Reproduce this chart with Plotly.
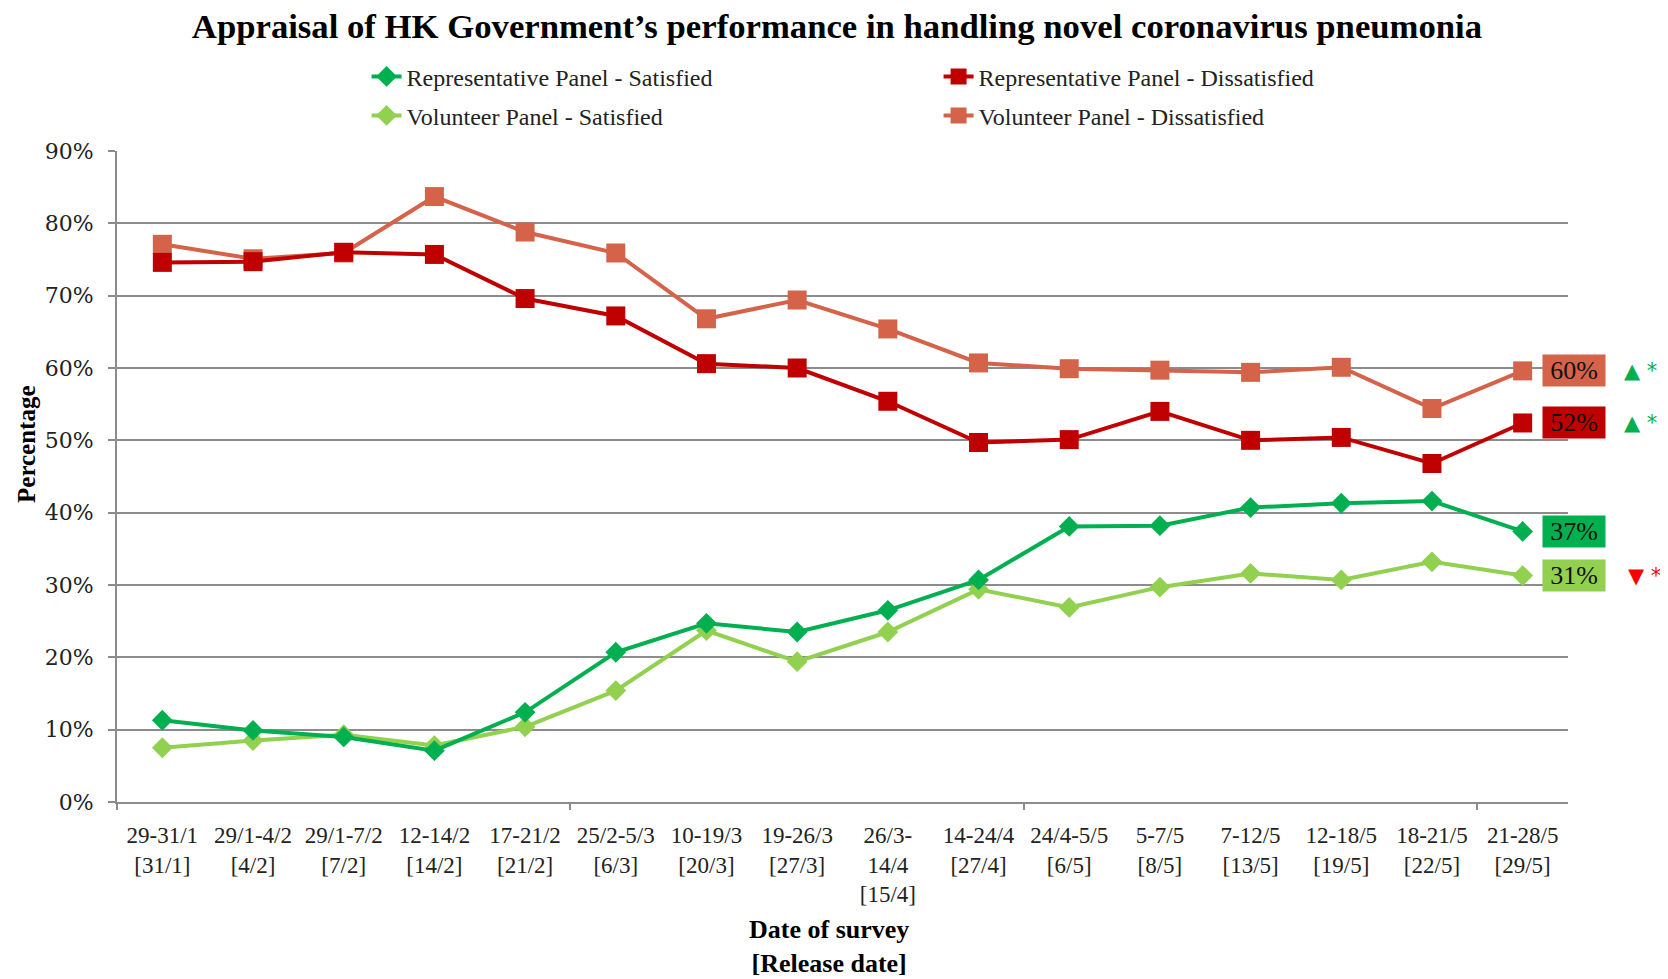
import plotly.graph_objects as go

categories = ["29-31/1<br>[31/1]", "29/1-4/2<br>[4/2]", "29/1-7/2<br>[7/2]", "12-14/2<br>[14/2]",
              "17-21/2<br>[21/2]", "25/2-5/3<br>[6/3]", "10-19/3<br>[20/3]", "19-26/3<br>[27/3]",
              "26/3-<br>14/4<br>[15/4]", "14-24/4<br>[27/4]", "24/4-5/5<br>[6/5]", "5-7/5<br>[8/5]",
              "7-12/5<br>[13/5]", "12-18/5<br>[19/5]", "18-21/5<br>[22/5]", "21-28/5<br>[29/5]"]

rep_sat = [11.3, 9.9, 9.0, 7.1, 12.4, 20.7, 24.7, 23.5, 26.5, 30.7, 38.1, 38.2, 40.7, 41.3, 41.6, 37.4]
vol_sat = [7.5, 8.5, 9.3, 7.8, 10.4, 15.4, 23.7, 19.4, 23.5, 29.4, 26.9, 29.7, 31.6, 30.7, 33.2, 31.3]
rep_dis = [74.6, 74.7, 76.0, 75.7, 69.6, 67.2, 60.6, 60.0, 55.4, 49.7, 50.1, 54.0, 50.0, 50.4, 46.8, 52.4]
vol_dis = [77.1, 75.1, 75.9, 83.7, 78.8, 75.9, 66.8, 69.4, 65.4, 60.7, 59.9, 59.7, 59.4, 60.1, 54.4, 59.6]

y_ticks = [0, 10, 20, 30, 40, 50, 60, 70, 80, 90]
y_ticklabels = ["0%", "10%", "20%", "30%", "40%", "50%", "60%", "70%", "80%", "90%"]

C_REP_SAT = "#00B050"
C_VOL_SAT = "#92D050"
C_REP_DIS = "#C00000"
C_VOL_DIS = "#D4634A"

xs = list(range(len(categories)))
fig = go.Figure()

series = [
    # name, values, color, symbol, size, legendrank, legend
    ("Volunteer Panel - Dissatisfied", vol_dis, C_VOL_DIS, "square", 19, 2, "legend2"),
    ("Volunteer Panel - Satisfied", vol_sat, C_VOL_SAT, "diamond", 16, 1, "legend2"),
    ("Representative Panel - Dissatisfied", rep_dis, C_REP_DIS, "square", 19, 2, "legend"),
    ("Representative Panel - Satisfied", rep_sat, C_REP_SAT, "diamond", 16, 1, "legend"),
]
for name, vals, color, sym, size, rank, leg in series:
    fig.add_trace(go.Scatter(
        x=xs, y=vals, name=name, mode="lines+markers",
        line=dict(color=color, width=4),
        marker=dict(symbol=sym, size=size, color=color),
        legendrank=rank, legend=leg,
    ))

# invisible trace hosting the boundary ticks on xaxis2
fig.add_trace(go.Scatter(x=[xs[0]], y=[None], xaxis="x2", showlegend=False, hoverinfo="skip"))

# right-side value labels and change markers
end_series = [
    (vol_dis, C_VOL_DIS, "▲ *", "#00B050", 118),
    (rep_dis, C_REP_DIS, "▲ *", "#00B050", 118),
    (rep_sat, C_REP_SAT, "", "#00B050", 118),
    (vol_sat, C_VOL_SAT, "▼ *", "#FF0000", 122),
]
for vals, bg, chg, chg_color, shift in end_series:
    fig.add_annotation(
        x=xs[-1], y=vals[-1], xref="x", yref="y",
        text=f"{round(vals[-1])}%", showarrow=False, xshift=51,
        bgcolor=bg, borderpad=2, width=58, height=27,
        font=dict(family="Liberation Serif", size=26, color="#111111"),
    )
    if chg:
        fig.add_annotation(
            x=xs[-1], y=vals[-1], xref="x", yref="y",
            text=chg, showarrow=False, xshift=shift,
            font=dict(family="DejaVu Sans", size=21, color=chg_color),
        )

# axis titles
fig.add_annotation(
    x=-0.062, y=0.55, xref="paper", yref="paper", textangle=-90,
    text="<b>Percentage</b>", showarrow=False, xanchor="center", yanchor="middle",
    font=dict(family="Liberation Serif", size=25, color="black"),
)
fig.add_annotation(
    x=0.491, y=-0.222, xref="paper", yref="paper",
    text="<b>Date of survey<br>[Release date]</b>", showarrow=False,
    xanchor="center", yanchor="middle",
    font=dict(family="Liberation Serif", size=26, color="black"),
)

legend_common = dict(
    orientation="h", xanchor="left", yanchor="middle",
    entrywidth=527, entrywidthmode="pixels",
    font=dict(family="Liberation Serif", size=24, color="#222222"),
    bgcolor="rgba(0,0,0,0)",
)

fig.update_layout(
    width=1668, height=979,
    paper_bgcolor="white", plot_bgcolor="white",
    margin=dict(l=109, r=108, t=143, b=185),
    title=dict(
        text="<b>Appraisal of HK Government’s performance in handling novel coronavirus pneumonia</b>",
        x=0.497, xanchor="center", y=0.982, yanchor="middle",
        font=dict(family="Liberation Serif", size=34.7, color="black"),
    ),
    legend=dict(x=0.172, y=1.114, **legend_common),
    legend2=dict(x=0.172, y=1.054, **legend_common),
    showlegend=True,
    xaxis=dict(
        range=[-0.5, 15.5], tickmode="array", tickvals=xs, ticktext=categories,
        ticks="", showgrid=False, zeroline=False,
        showline=True, linecolor="#8C8C8C", linewidth=2,
        tickfont=dict(family="Liberation Serif", size=23, color="#222222"),
        ticklabelstandoff=11,
    ),
    xaxis2=dict(
        overlaying="x", matches="x", anchor="y", side="bottom",
        tickmode="array", tickvals=[-0.5, 4.5, 9.5, 14.5],
        ticks="outside", ticklen=7, tickcolor="#8C8C8C", tickwidth=2,
        showticklabels=False, showgrid=False, zeroline=False, showline=False,
    ),
    yaxis=dict(
        range=[0, 90], tickmode="array", tickvals=y_ticks, ticktext=y_ticklabels,
        ticks="outside", ticklen=7, tickcolor="#8C8C8C", tickwidth=2,
        showgrid=True, gridcolor="#8C8C8C", gridwidth=1.5,
        showline=True, linecolor="#8C8C8C", linewidth=2, zeroline=False,
        tickfont=dict(family="DejaVu Serif", size=22, color="#222222"),
        ticklabelstandoff=10,
    ),
)

fig.write_html("out.html")
